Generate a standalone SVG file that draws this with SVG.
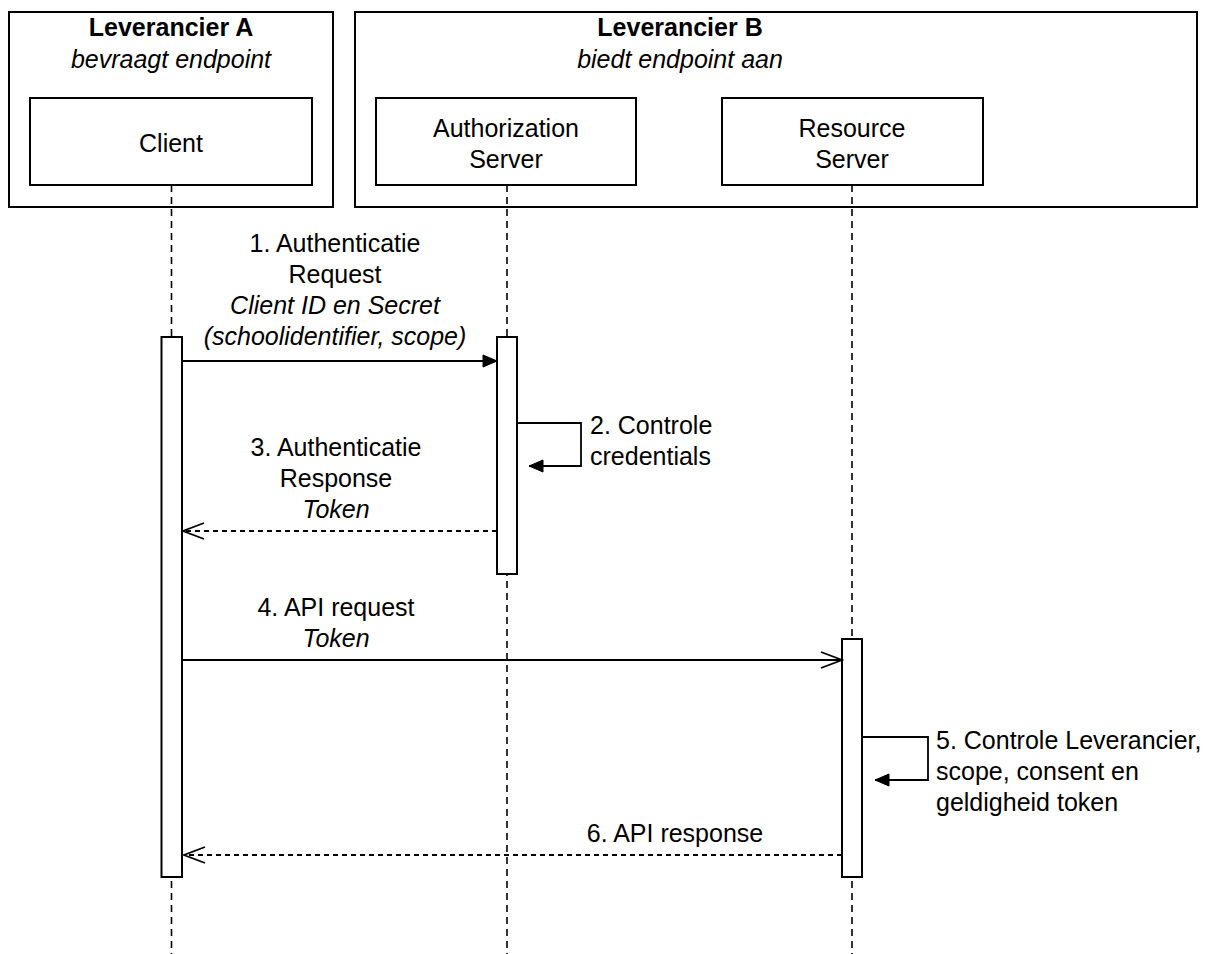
<svg xmlns="http://www.w3.org/2000/svg" width="1218" height="954" viewBox="0 0 1218 954">
<style>
  .box { fill: #ffffff; stroke: #000000; stroke-width: 2; }
  .act { fill: #ffffff; stroke: #000000; stroke-width: 2; }
  .life { fill: none; stroke: #000000; stroke-width: 1.6; stroke-dasharray: 7 5; }
  .msg { fill: none; stroke: #000000; stroke-width: 1.8; }
  .ret { fill: none; stroke: #000000; stroke-width: 1.8; stroke-dasharray: 5 4; }
  text { font-family: "Liberation Sans", Arial, Helvetica, sans-serif; font-size: 25px; fill: #000000; }
  .c { text-anchor: middle; }
  .b { font-weight: bold; }
  .i { font-style: italic; }
</style>
<defs>
  <marker id="filled" markerWidth="16" markerHeight="14" refX="15" refY="7" orient="auto" markerUnits="userSpaceOnUse">
    <path d="M1,1 L15,7 L1,13 Z" fill="#000000" stroke="#000000" stroke-width="1"/>
  </marker>
  <marker id="open" markerWidth="26" markerHeight="20" refX="23" refY="10" orient="auto" markerUnits="userSpaceOnUse">
    <path d="M2,2 L23,10 L2,18" fill="none" stroke="#000000" stroke-width="1.8"/>
  </marker>
</defs>

<g id="leverancier-a">
  <rect class="box" x="9" y="12" width="324" height="195"/>
  <text class="c b" x="171" y="36">Leverancier A</text>
  <text class="c i" x="171" y="68">bevraagt endpoint</text>
</g>
<g id="leverancier-b">
  <rect class="box" x="355" y="12" width="842" height="195"/>
  <text class="c b" x="680" y="36">Leverancier B</text>
  <text class="c i" x="680" y="68">biedt endpoint aan</text>
</g>

<g id="lifelines">
  <line class="life" x1="171.5" y1="185" x2="171.5" y2="954"/>
  <line class="life" x1="507" y1="185" x2="507" y2="954"/>
  <line class="life" x1="852" y1="185" x2="852" y2="954"/>
</g>

<g id="client">
  <rect class="box" x="30" y="98" width="282" height="87"/>
  <text class="c" x="171" y="152">Client</text>
</g>
<g id="authorization-server">
  <rect class="box" x="376" y="98" width="260" height="87"/>
  <text class="c" x="506" y="137">Authorization</text>
  <text class="c" x="506" y="168">Server</text>
</g>
<g id="resource-server">
  <rect class="box" x="722" y="98" width="261" height="87"/>
  <text class="c" x="852" y="137">Resource</text>
  <text class="c" x="852" y="168">Server</text>
</g>

<g id="client-activation">
  <rect class="act" x="161.5" y="337" width="20.5" height="540"/>
</g>
<g id="auth-activation">
  <rect class="act" x="497" y="337" width="20" height="237"/>
</g>
<g id="resource-activation">
  <rect class="act" x="842" y="639" width="20" height="238"/>
</g>

<g id="connectors">
  <line class="msg" x1="182" y1="361" x2="497" y2="361" marker-end="url(#filled)"/>
  <polyline class="msg" points="517,423 581,423 581,466 529,466" marker-end="url(#filled)"/>
  <line class="ret" x1="497" y1="531" x2="183" y2="531" marker-end="url(#open)"/>
  <line class="msg" x1="182" y1="660" x2="842" y2="660" marker-end="url(#open)"/>
  <polyline class="msg" points="862,737 928,737 928,780 875,780" marker-end="url(#filled)"/>
  <line class="ret" x1="842" y1="855" x2="184" y2="855" marker-end="url(#open)"/>
</g>

<g id="labels">
  <text class="c" x="335" y="252">1. Authenticatie</text>
  <text class="c" x="335" y="283">Request</text>
  <text class="c i" x="335" y="314">Client ID en Secret</text>
  <text class="c i" x="335" y="345">(schoolidentifier, scope)</text>

  <text x="590" y="434">2. Controle</text>
  <text x="590" y="465">credentials</text>

  <text class="c" x="336" y="456">3. Authenticatie</text>
  <text class="c" x="336" y="487">Response</text>
  <text class="c i" x="336" y="518">Token</text>

  <text class="c" x="336" y="616">4. API request</text>
  <text class="c i" x="336" y="647">Token</text>

  <text x="936" y="749">5. Controle Leverancier,</text>
  <text x="936" y="780">scope, consent en</text>
  <text x="936" y="811">geldigheid token</text>

  <text class="c" x="675" y="842">6. API response</text>
</g>
</svg>
